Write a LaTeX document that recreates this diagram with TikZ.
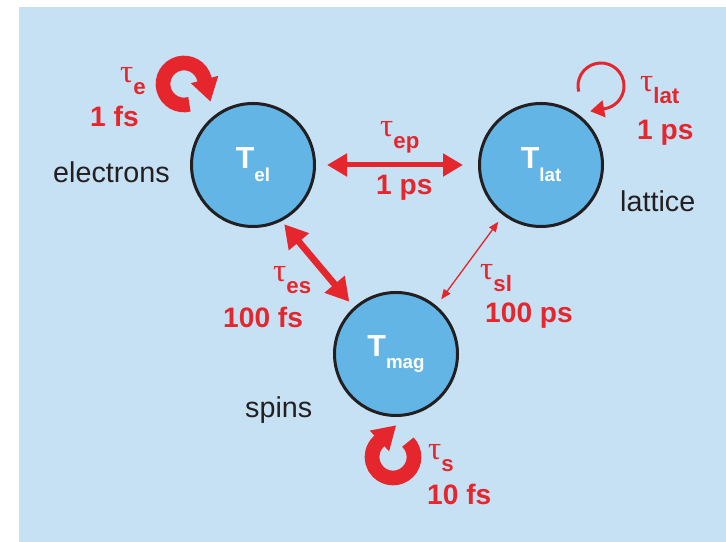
\documentclass[tikz,border=0pt]{standalone}
\usepackage{fontspec}
\setmainfont{Liberation Sans}
\newfontfamily\taufont{Liberation Serif}
\usetikzlibrary{arrows.meta}
\definecolor{bgblue}{HTML}{C7E1F4}
\definecolor{ballblue}{HTML}{62B5E5}
\definecolor{tred}{HTML}{E5262C}
\definecolor{ink}{HTML}{231F20}
\newcommand\tlab[1]{{\taufont\fontsize{28}{28}\selectfont τ}\raisebox{-10pt}{\fontsize{19}{19}\selectfont\bfseries #1}}
\newcommand\Tlab[1]{{\fontsize{26}{26}\selectfont\bfseries T}\raisebox{-11pt}{\fontsize{16}{16}\selectfont\bfseries #1}}
\begin{document}
\begin{tikzpicture}[x=0.03cm,y=0.03cm,
  ball/.style={circle,draw=ink,line width=0.09cm,fill=ballblue,minimum size=3.69cm,
    inner sep=0pt,text=white},
  ratelab/.style={anchor=base west,inner sep=0pt,text=tred,font=\fontsize{24}{24}\selectfont\bfseries},
  taulab/.style={anchor=base west,inner sep=0pt,text=tred},
  bathname/.style={anchor=base west,inner sep=0pt,text=ink,font=\fontsize{24.5}{24.5}\selectfont},
  curl/.style={tred,line width=0.44cm,-{Triangle[length=0.69cm,width=0.8cm]}},
  thincurl/.style={tred,line width=0.09cm,-{Triangle[length=0.42cm,width=0.5cm]}},
  ep/.style={tred,line width=0.15cm,{Triangle[length=0.6cm,width=0.66cm]}-{Triangle[length=0.6cm,width=0.66cm]}},
  es/.style={tred,line width=0.2cm,{Triangle[length=0.69cm,width=0.75cm]}-{Triangle[length=0.69cm,width=0.75cm]}},
  sl/.style={tred,line width=0.04cm,{Triangle[length=0.3cm,width=0.24cm]}-{Triangle[length=0.3cm,width=0.24cm]}}]
  \useasboundingbox (0,0) rectangle (726,542);
  \fill[bgblue] (19,0) rectangle (726,535);
  % the three baths
  \node[ball] (Tel) at (253,377) {\Tlab{el}};
  \node[ball] (Tlat) at (541,377) {\Tlab{lat}};
  \node[ball] (Tmag) at (396,188) {\Tlab{mag}};
  \node[bathname] (nel) at (53,359) {electrons};
  \node[bathname] (nlat) at (620,330) {lattice};
  \node[bathname] (nmag) at (245,124) {spins};
  % couplings
  \draw[ep,shorten <=0.33cm,shorten >=0.45cm] (Tel) -- (Tlat);
  \draw[es,shorten <=0.12cm,shorten >=0.21cm] (Tel.-63) -- (Tmag.132);
  \draw[sl,shorten <=0.24cm,shorten >=0.24cm] (Tlat.233) -- (Tmag.50);
  \node[taulab] (tep) at (380,405) {\tlab{ep}};
  \node[ratelab] (rep) at (376,347) {1 ps};
  \node[taulab] (tes) at (273,260) {\tlab{es}};
  \node[ratelab] (res) at (223,214) {100 fs};
  \node[taulab] (tsl) at (480,262) {\tlab{sl}};
  \node[ratelab] (rsl) at (485,219) {100 ps};
  % self relaxation
  \coordinate (ce) at (184,458);
  \coordinate (cl) at (601,456);
  \coordinate (cs) at (393,85);
  \draw[curl] ([shift={(-75:21)}]ce) arc[start angle=-75,end angle=-345,radius=21] -- ++(-75:24);
  \draw[thincurl] ([shift={(194:23)}]cl) arc[start angle=194,end angle=-80,radius=23] -- ++(190:15);
  \draw[curl] ([shift={(45:21)}]cs) arc[start angle=45,end angle=-227,radius=21] -- ++(43:24);
  \node[taulab] (te) at (120,459) {\tlab{e}};
  \node[ratelab] (re) at (90,415) {1 fs};
  \node[taulab] (tl) at (640,450) {\tlab{lat}};
  \node[ratelab] (rl) at (637,402) {1 ps};
  \node[taulab] (ts) at (428,82) {\tlab{s}};
  \node[ratelab] (rs) at (427,37) {10 fs};
\end{tikzpicture}
\end{document}
